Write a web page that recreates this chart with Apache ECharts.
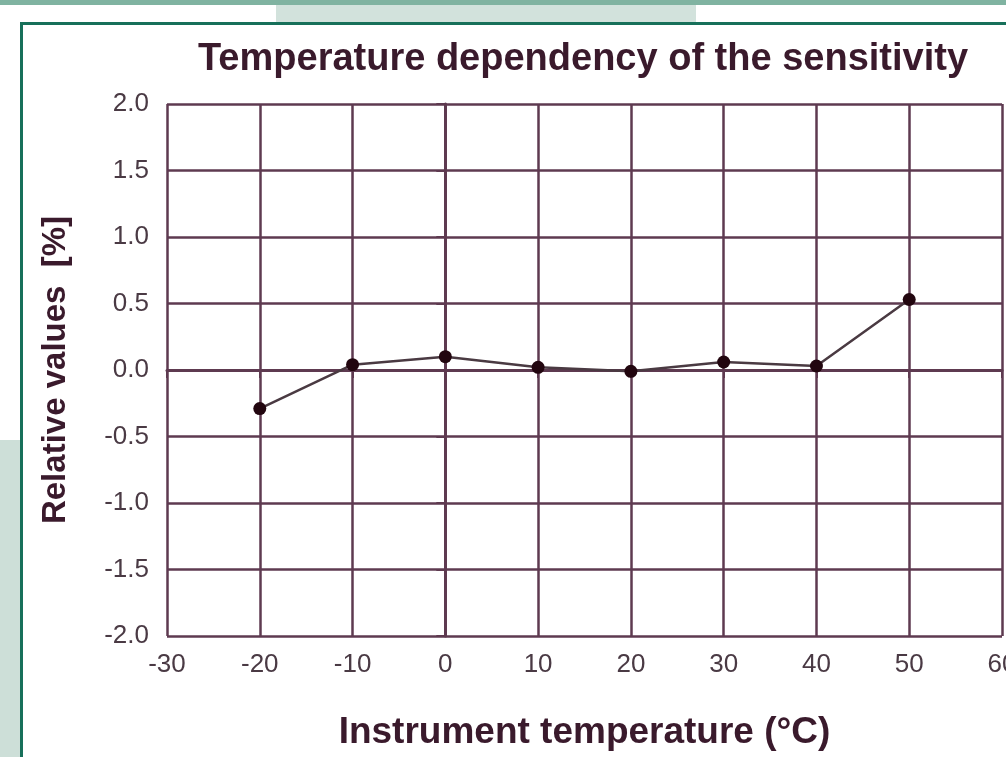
<!DOCTYPE html>
<html>
<head>
<meta charset="utf-8">
<script src="https://cdn.jsdelivr.net/npm/echarts@6/dist/echarts.min.js"></script>
<style>
  html, body { margin: 0; padding: 0; background: #fff; }
  #chart { width: 1006px; height: 757px; }
</style>
</head>
<body>
<div id="chart"></div>
<script>
// 数据
const temperatures = [-20, -10, 0, 10, 20, 30, 40, 50]
const relativeValues = [-0.29, 0.04, 0.1, 0.02, -0.01, 0.06, 0.03, 0.53]
const xTicks = [-30, 60, 10]   // min, max, interval
const yTicks = [-2, 2, 0.5]

const gridColor = '#5e3a50'

const chart = echarts.init(document.getElementById('chart'))
const option = {
  backgroundColor: '#ffffff',
  animation: false,
  // 背景装饰
  graphic: [
    { type: 'rect', shape: { x: 276, y: 0, width: 420, height: 22 }, style: { fill: '#d2e2dc' }, z: -10 },
    { type: 'rect', shape: { x: 0, y: 0, width: 1006, height: 5 }, style: { fill: '#80b3a1' }, z: -9 },
    { type: 'rect', shape: { x: 0, y: 440, width: 20, height: 317 }, style: { fill: '#cddfd8' }, z: -10 },
    { type: 'polyline', shape: { points: [[21.5, 757], [21.5, 23.5], [1006, 23.5]] },
      style: { stroke: '#17705a', lineWidth: 3, fill: null }, z: -5 }
  ],
  title: {
    text: 'Temperature dependency of the sensitivity',
    left: 578,
    top: 36,
    textAlign: 'center',
    textStyle: {
      fontFamily: 'Liberation Sans',
      fontSize: 38,
      fontWeight: 'bold',
      color: '#3a1a2c'
    }
  },
  grid: {
    left: 167,
    right: 4,
    top: 104,
    bottom: 121,
    outerBoundsMode: 'none'
  },
  xAxis: {
    type: 'value',
    min: xTicks[0],
    max: xTicks[1],
    interval: xTicks[2],
    name: 'Instrument temperature (°C)',
    nameLocation: 'middle',
    nameGap: 78,
    nameTextStyle: {
      fontFamily: 'Liberation Sans',
      fontSize: 37,
      fontWeight: 'bold',
      color: '#3a1a2c'
    },
    axisLine: { show: true, lineStyle: { color: gridColor, width: 3 } },
    axisTick: { show: true, length: 8, lineStyle: { color: gridColor, width: 2 } },
    axisLabel: {
      margin: 16,
      fontFamily: 'Liberation Sans',
      fontSize: 26,
      color: '#4a3a44'
    },
    splitLine: { show: true, lineStyle: { color: gridColor, width: 2.5 } }
  },
  yAxis: {
    type: 'value',
    min: yTicks[0],
    max: yTicks[1],
    interval: yTicks[2],
    name: 'Relative values  [%]',
    nameLocation: 'middle',
    nameGap: 95,
    nameTextStyle: {
      fontFamily: 'Liberation Sans',
      fontSize: 33,
      fontWeight: 'bold',
      color: '#3a1a2c'
    },
    axisLine: { show: true, lineStyle: { color: gridColor, width: 3 } },
    axisTick: { show: true, length: 9, lineStyle: { color: gridColor, width: 2 } },
    axisLabel: {
      margin: 18,
      fontFamily: 'Liberation Sans',
      fontSize: 26,
      color: '#4a3a44',
      formatter: v => v.toFixed(1)
    },
    splitLine: { show: true, lineStyle: { color: gridColor, width: 2.5 } }
  },
  series: [{
    type: 'line',
    data: temperatures.map((t, i) => [t, relativeValues[i]]),
    symbol: 'circle',
    symbolSize: 13,
    itemStyle: { color: '#22060f' },
    lineStyle: { color: '#4a3a42', width: 2.5 }
  }]
}
chart.setOption(option)
</script>
</body>
</html>
